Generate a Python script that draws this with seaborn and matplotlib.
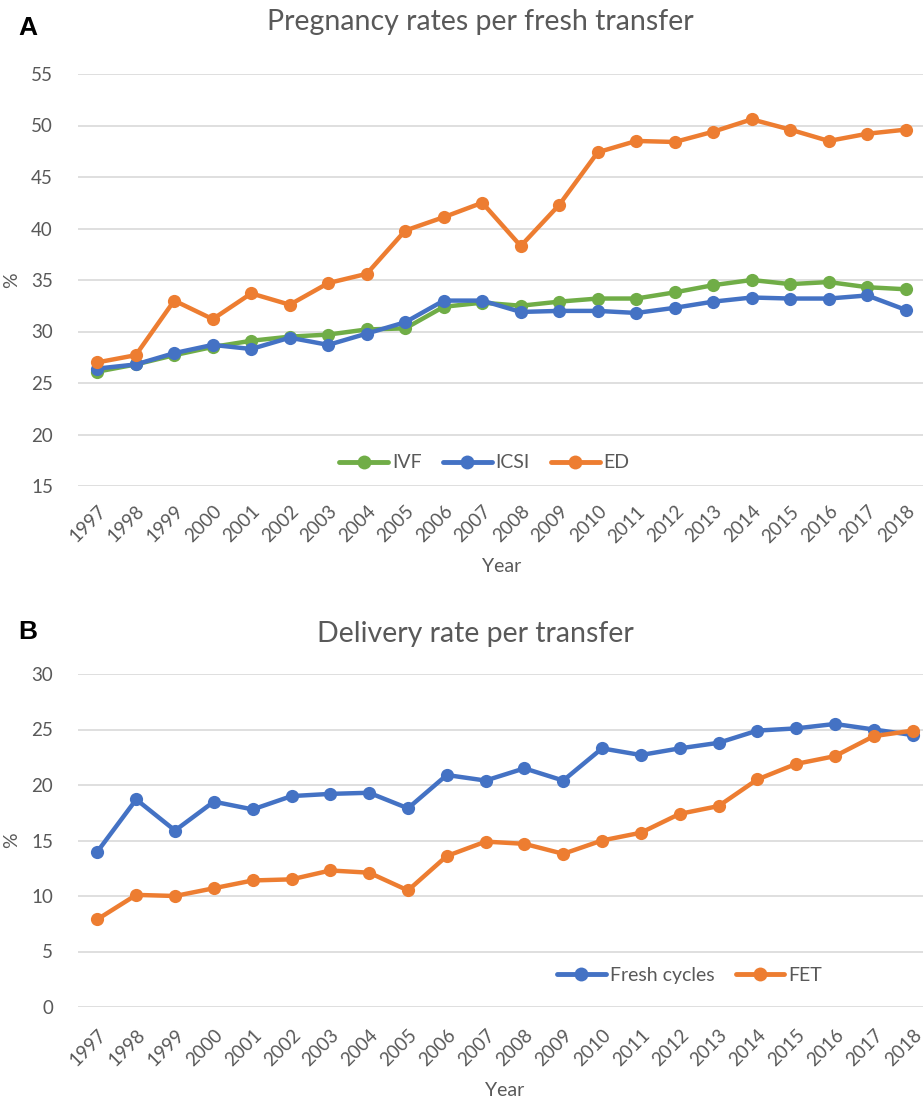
import matplotlib
matplotlib.use("Agg")
import matplotlib.pyplot as plt
import pandas as pd
import seaborn as sns

# ---- data ----
years = list(range(1997, 2019))

ivf = [26.1, 26.8, 27.7, 28.5, 29.1, 29.5, 29.7, 30.2, 30.3, 32.4, 32.8,
       32.5, 32.9, 33.2, 33.2, 33.8, 34.5, 35.0, 34.6, 34.8, 34.3, 34.1]
icsi = [26.4, 26.8, 27.9, 28.7, 28.3, 29.4, 28.7, 29.8, 30.9, 33.0, 33.0,
        31.9, 32.0, 32.0, 31.8, 32.3, 32.9, 33.3, 33.2, 33.2, 33.5, 32.1]
ed = [27.0, 27.7, 33.0, 31.2, 33.7, 32.6, 34.7, 35.6, 39.8, 41.1, 42.5,
      38.3, 42.3, 47.4, 48.5, 48.4, 49.4, 50.6, 49.6, 48.5, 49.2, 49.6]

fresh = [14.0, 18.7, 15.9, 18.5, 17.8, 19.0, 19.2, 19.3, 17.9, 20.9, 20.4,
         21.5, 20.4, 23.3, 22.7, 23.3, 23.8, 24.9, 25.1, 25.5, 25.0, 24.5]
fet = [7.9, 10.1, 10.0, 10.7, 11.4, 11.5, 12.3, 12.1, 10.5, 13.6, 14.9,
       14.7, 13.8, 15.0, 15.7, 17.4, 18.1, 20.5, 21.9, 22.6, 24.4, 24.9]

GREY = "#595959"
GRID = "#D9D9D9"
palette_a = {"IVF": "#70AD47", "ICSI": "#4472C4", "ED": "#ED7D31"}
palette_b = {"Fresh cycles": "#4472C4", "FET": "#ED7D31"}

sns.set_theme(style="white")
plt.rcParams["font.family"] = ["Lato", "DejaVu Sans"]


def long_frame(series):
    frames = []
    for name, vals in series.items():
        frames.append(pd.DataFrame({"Year": years, "value": vals, "series": name}))
    return pd.concat(frames, ignore_index=True)


def style_axis(ax, yticks, legend_x, legend_y, xpad, xlabelpad):
    ax.set_xlim(years[0] - 0.5, years[-1] + 0.5)
    ax.set_ylim(yticks[0], yticks[-1])
    ax.set_yticks(yticks)
    ax.set_xticks(years)
    ax.set_xticklabels([str(y) for y in years], rotation=45, ha="right",
                       va="top", rotation_mode="anchor")
    ax.tick_params(axis="both", length=0, labelsize=13.5, colors=GREY)
    ax.tick_params(axis="x", pad=xpad)
    ax.tick_params(axis="y", pad=18)
    ax.grid(axis="y", color=GRID, linewidth=1.2)
    ax.set_axisbelow(True)
    for s in ax.spines.values():
        s.set_visible(False)
    ax.set_xlabel("Year", fontsize=14, color=GREY, labelpad=xlabelpad)
    ax.set_ylabel("%", fontsize=14, color=GREY, labelpad=8)
    handles, labels = ax.get_legend_handles_labels()
    for h in handles:
        h.set_markersize(10)
        h.set_linewidth(3.5)
    ax.legend(handles, labels, loc="center", bbox_to_anchor=(legend_x, legend_y),
              ncol=len(labels), frameon=False, fontsize=14, labelcolor=GREY,
              handlelength=2.5, handletextpad=0.2, columnspacing=1.1)


fig = plt.figure(figsize=(9.23, 11.04), dpi=100)
ax_a = fig.add_axes([78 / 923, 1 - 486 / 1104, 847 / 923, 412 / 1104])
ax_b = fig.add_axes([78 / 923, 1 - 1007 / 1104, 854 / 923, 333 / 1104])

# panel A
df_a = long_frame({"IVF": ivf, "ICSI": icsi, "ED": ed})
sns.lineplot(data=df_a, x="Year", y="value", hue="series", palette=palette_a,
             marker="o", markersize=9.5, markeredgewidth=0, linewidth=3.2,
             ax=ax_a)
style_axis(ax_a, list(range(15, 56, 5)), 0.48, 0.056, 12, 9)

# panel B
df_b = long_frame({"Fresh cycles": fresh, "FET": fet})
sns.lineplot(data=df_b, x="Year", y="value", hue="series", palette=palette_b,
             marker="o", markersize=9.5, markeredgewidth=0, linewidth=3.2,
             ax=ax_b, clip_on=False)
style_axis(ax_b, list(range(0, 31, 5)), 0.716, 0.096, 14, 9)

# titles and panel letters
fig.text(480 / 923, 1 - 22 / 1104, "Pregnancy rates per fresh transfer",
         ha="center", va="center", fontsize=20.5, color=GREY)
fig.text(475 / 923, 1 - 634 / 1104, "Delivery rate per transfer",
         ha="center", va="center", fontsize=20.5, color=GREY)
fig.text(18 / 923, 1 - 28 / 1104, "A", ha="left", va="center", fontsize=19,
         fontweight="bold", color="black", family=["Liberation Sans", "DejaVu Sans"])
fig.text(18 / 923, 1 - 632 / 1104, "B", ha="left", va="center", fontsize=19,
         fontweight="bold", color="black", family=["Liberation Sans", "DejaVu Sans"])

fig.savefig("out.png", dpi=100)
